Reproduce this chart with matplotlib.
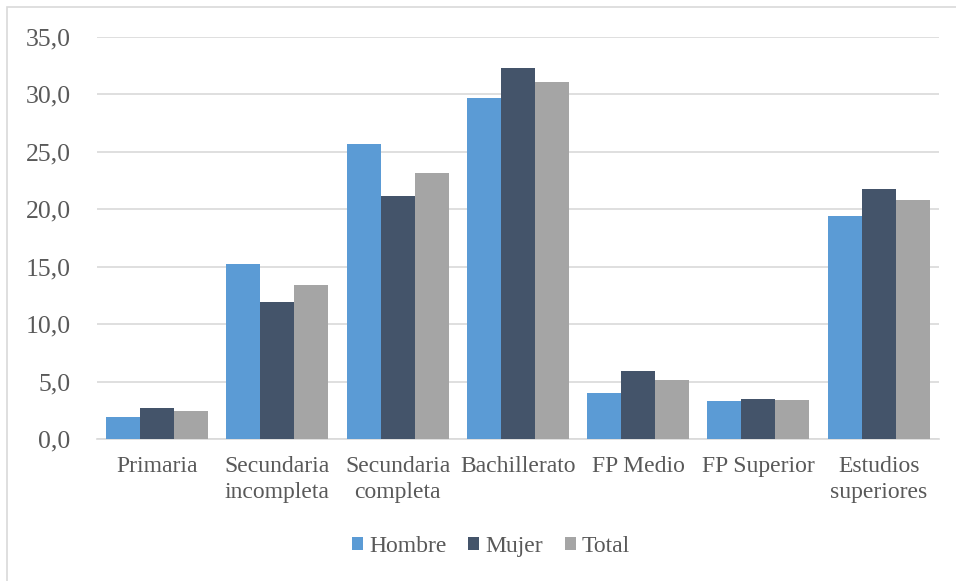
import matplotlib.pyplot as plt
import numpy as np
from matplotlib.patches import Rectangle

plt.rcParams['font.family'] = ['Liberation Serif', 'DejaVu Serif']

categorias = ['Primaria', 'Secundaria\nincompleta', 'Secundaria\ncompleta', 'Bachillerato',
              'FP Medio', 'FP Superior', 'Estudios\nsuperiores']
hombre = [1.9, 15.2, 25.7, 29.7, 4.0, 3.3, 19.4]
mujer = [2.7, 11.9, 21.2, 32.3, 5.9, 3.5, 21.8]
total = [2.4, 13.4, 23.2, 31.1, 5.1, 3.4, 20.8]
series = ['Hombre', 'Mujer', 'Total']
colores = ['#5B9BD5', '#44546A', '#A5A5A5']
yticks = np.arange(0, 36, 5)

fig = plt.figure(figsize=(9.56, 5.81), dpi=100)
ax = fig.add_axes([0.1015, 0.2444, 0.8805, 0.6919])

x = np.arange(len(categorias))
w = 0.283
for i, (vals, nombre, c) in enumerate(zip([hombre, mujer, total], series, colores)):
    ax.bar(x + (i - 1) * w, vals, w, color=c, label=nombre, zorder=3)

ax.set_xlim(-0.5, len(categorias) - 0.5)
ax.set_ylim(0, 35)
ax.set_yticks(yticks)
ax.set_yticklabels([f'{v:.1f}'.replace('.', ',') for v in yticks])
ax.set_xticks(x)
ax.set_xticklabels(categorias, linespacing=1.35)
ax.yaxis.grid(True, color='#D9D9D9', linewidth=1.2, zorder=0)
for s in ['top', 'right', 'left']:
    ax.spines[s].set_visible(False)
ax.spines['bottom'].set_color('#D9D9D9')
ax.spines['bottom'].set_linewidth(1.2)
ax.tick_params(axis='y', length=0, pad=19, labelsize=18.5, labelcolor='#595959')
ax.tick_params(axis='x', length=0, pad=12, labelsize=17, labelcolor='#595959')

leg = fig.legend(loc='center', bbox_to_anchor=(491 / 956, 1 - 546.7 / 581), ncol=3,
                 frameon=False, fontsize=17, handlelength=0.47, handleheight=0.47,
                 handletextpad=0.25, columnspacing=0.93)
for t in leg.get_texts():
    t.set_color('#595959')

fig.patches.append(Rectangle((7 / 956, -0.05), 1.2, 1.05 - 7.5 / 581, transform=fig.transFigure,
                             fill=False, edgecolor='#D9D9D9', linewidth=1.2))

fig.savefig('out.png', dpi=100)
